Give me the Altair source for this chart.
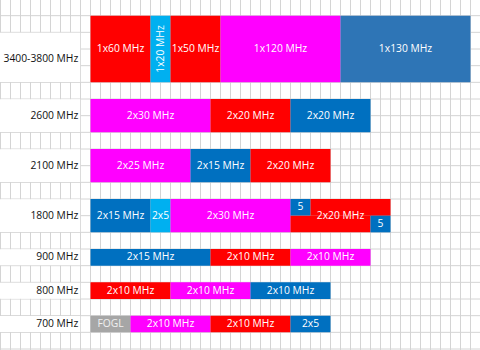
import altair as alt
import pandas as pd

# ---------------- data ----------------
bands = ["3400-3800 MHz", "2600 MHz", "2100 MHz", "1800 MHz", "900 MHz", "800 MHz", "700 MHz"]

seg_labels = [
    ["1x60 MHz", "1x20 MHz", "1x50 MHz", "1x120 MHz", "1x130 MHz"],
    ["2x30 MHz", "2x20 MHz", "2x20 MHz"],
    ["2x25 MHz", "2x15 MHz", "2x20 MHz"],
    ["2x15 MHz", "2x5", "2x30 MHz", "5", "2x20 MHz", "2x20 MHz", "5"],
    ["2x15 MHz", "2x10 MHz", "2x10 MHz"],
    ["2x10 MHz", "2x10 MHz", "2x10 MHz"],
    ["FOGL", "2x10 MHz", "2x10 MHz", "2x5"],
]
seg_mhz = [
    [60, 20, 50, 120, 130],
    [30, 20, 20],
    [25, 15, 20],
    [15, 5, 30, 5, 20, 20, 5],
    [15, 10, 10],
    [10, 10, 10],
    [5, 10, 10, 5],
]
seg_colors = [
    ["red", "light", "red", "magenta", "steel"],
    ["magenta", "red", "blue"],
    ["magenta", "blue", "red"],
    ["blue", "light", "magenta", "blue", "red", "red", "blue"],
    ["blue", "red", "magenta"],
    ["red", "magenta", "blue"],
    ["gray", "magenta", "red", "blue"],
]
seg_lanes = [
    None, None, None,
    ["full", "full", "full", "top", "top", "bottom", "bottom"],
    None, None, None,
]

# ---------------- layout (spreadsheet cells) ----------------
cells_per_mhz = [0.1, 0.4, 0.4, 0.4, 0.8, 0.8, 0.8]
bar_row = [1, 6, 9, 12, 15, 17, 19]
bar_rows = [4, 2, 2, 2, 1, 1, 1]
label_row = [2, 6, 9, 12, 15, 17, 19]
label_rows = [3, 2, 2, 2, 1, 1, 1]
BAR_COL = 9
N_COLS = 48
N_ROWS = 21
XD = [-0.05, N_COLS - 0.05]
YD = [0.06, N_ROWS + 0.06]

color_dom = ["red", "magenta", "blue", "steel", "light", "gray"]
color_rng = ["#FF0000", "#FF00FF", "#0070C0", "#2E75B6", "#00B0F0", "#A6A6A6"]
FONT = "Open Sans"
FS = 10.3

rects = []
for i, band in enumerate(bands):
    lanes = seg_lanes[i] or ["full"] * len(seg_labels[i])
    cur = BAR_COL
    lane_cur = {}
    r0, h = bar_row[i], bar_rows[i]
    gid = -1
    prev = None
    for lab, mhz, col, lane in zip(seg_labels[i], seg_mhz[i], seg_colors[i], lanes):
        w = mhz * cells_per_mhz[i]
        if lane == "full":
            x1 = cur
            cur += w
            y1, y2 = r0, r0 + h
        else:
            x1 = lane_cur.get(lane, cur)
            lane_cur[lane] = x1 + w
            y1, y2 = (r0, r0 + h / 2) if lane == "top" else (r0 + h / 2, r0 + h)
        if not (prev and prev[0] == lab and prev[1] == col and prev[2] != lane):
            gid += 1
        prev = (lab, col, lane)
        rects.append(dict(band=band, g=f"{i}-{gid}", label=lab, color=col,
                          x=x1, x2=x1 + w, y=y1, y2=y2))

rdf = pd.DataFrame(rects)
tdf = (rdf.groupby("g")
       .agg(label=("label", "first"), color=("color", "first"),
            xa=("x", "min"), xb=("x2", "max"), ya=("y", "min"), yb=("y2", "max"))
       .reset_index())
tdf["tx"] = (tdf.xa + tdf.xb) / 2
tdf["ty"] = (tdf.ya + tdf.yb) / 2
tdf["w"] = tdf.xb - tdf.xa
tdf["rot"] = [(w < 2.5 and len(l) > 5) for w, l in zip(tdf.w, tdf.label)]

flat = tdf[~tdf.rot & (tdf.color != "gray")]
grayt = tdf[~tdf.rot & (tdf.color == "gray")]
rott = tdf[tdf.rot]

ldf = pd.DataFrame(dict(band=bands,
                        y=[r + 0.02 for r in label_row],
                        y2=[r + n - 0.02 for r, n in zip(label_row, label_rows)],
                        x=[XD[0] - 0.1] * len(bands),
                        x2=[7.97] * len(bands),
                        tx=[7.78] * len(bands),
                        ty=[r + n / 2 + (0.08 if n == 3 else 0) for r, n in zip(label_row, label_rows)]))

vgrid = pd.DataFrame(dict(x=list(range(N_COLS + 1))))
vgrid["y"] = YD[0]
vgrid["y2"] = YD[1]
hgrid = pd.DataFrame(dict(y=list(range(1, N_ROWS + 1))))
hgrid["x"] = XD[0]
hgrid["x2"] = XD[1]

xs = alt.Scale(domain=XD, nice=False, zero=False)
ys = alt.Scale(domain=YD, nice=False, zero=False, reverse=True)
GRID = "#D4D4D4"

X = lambda f: alt.X(f, scale=xs, axis=None)
Y = lambda f: alt.Y(f, scale=ys, axis=None)

vlines = alt.Chart(vgrid).mark_rule(color=GRID, strokeWidth=1).encode(
    x=X("x:Q"), y=Y("y:Q"), y2="y2:Q")
hlines = alt.Chart(hgrid).mark_rule(color=GRID, strokeWidth=1).encode(
    y=Y("y:Q"), x=X("x:Q"), x2="x2:Q")

label_cells = alt.Chart(ldf).mark_rect(color="white").encode(
    x=X("x:Q"), x2="x2:Q", y=Y("y:Q"), y2="y2:Q")

label_text = alt.Chart(ldf).mark_text(align="right", baseline="middle", font=FONT,
                                      fontSize=FS, color="#111111").encode(
    x=X("tx:Q"), y=Y("ty:Q"), text="band:N")

bars = alt.Chart(rdf).mark_rect(strokeWidth=0).encode(
    x=X("x:Q"), x2="x2:Q", y=Y("y:Q"), y2="y2:Q",
    color=alt.Color("color:N", scale=alt.Scale(domain=color_dom, range=color_rng), legend=None))

flat_text = alt.Chart(flat).mark_text(align="center", baseline="middle", font=FONT,
                                      fontSize=FS, color="white").encode(
    x=X("tx:Q"), y=Y("ty:Q"), text="label:N")
gray_text = alt.Chart(grayt).mark_text(align="center", baseline="middle", font=FONT,
                                       fontSize=FS, color="#F0F0F0").encode(
    x=X("tx:Q"), y=Y("ty:Q"), text="label:N")
rot_text = alt.Chart(rott).mark_text(align="center", baseline="middle", font=FONT,
                                     fontSize=FS, color="white", angle=270).encode(
    x=X("tx:Q"), y=Y("ty:Q"), text="label:N")

chart = (alt.layer(vlines, hlines, label_cells, bars, label_text, flat_text, gray_text, rot_text)
         .properties(width=480, height=350, padding=0, autosize="none", background="white")
         .configure_view(stroke=None))

chart.save("out.html", embed_options={"renderer": "svg", "actions": False})
